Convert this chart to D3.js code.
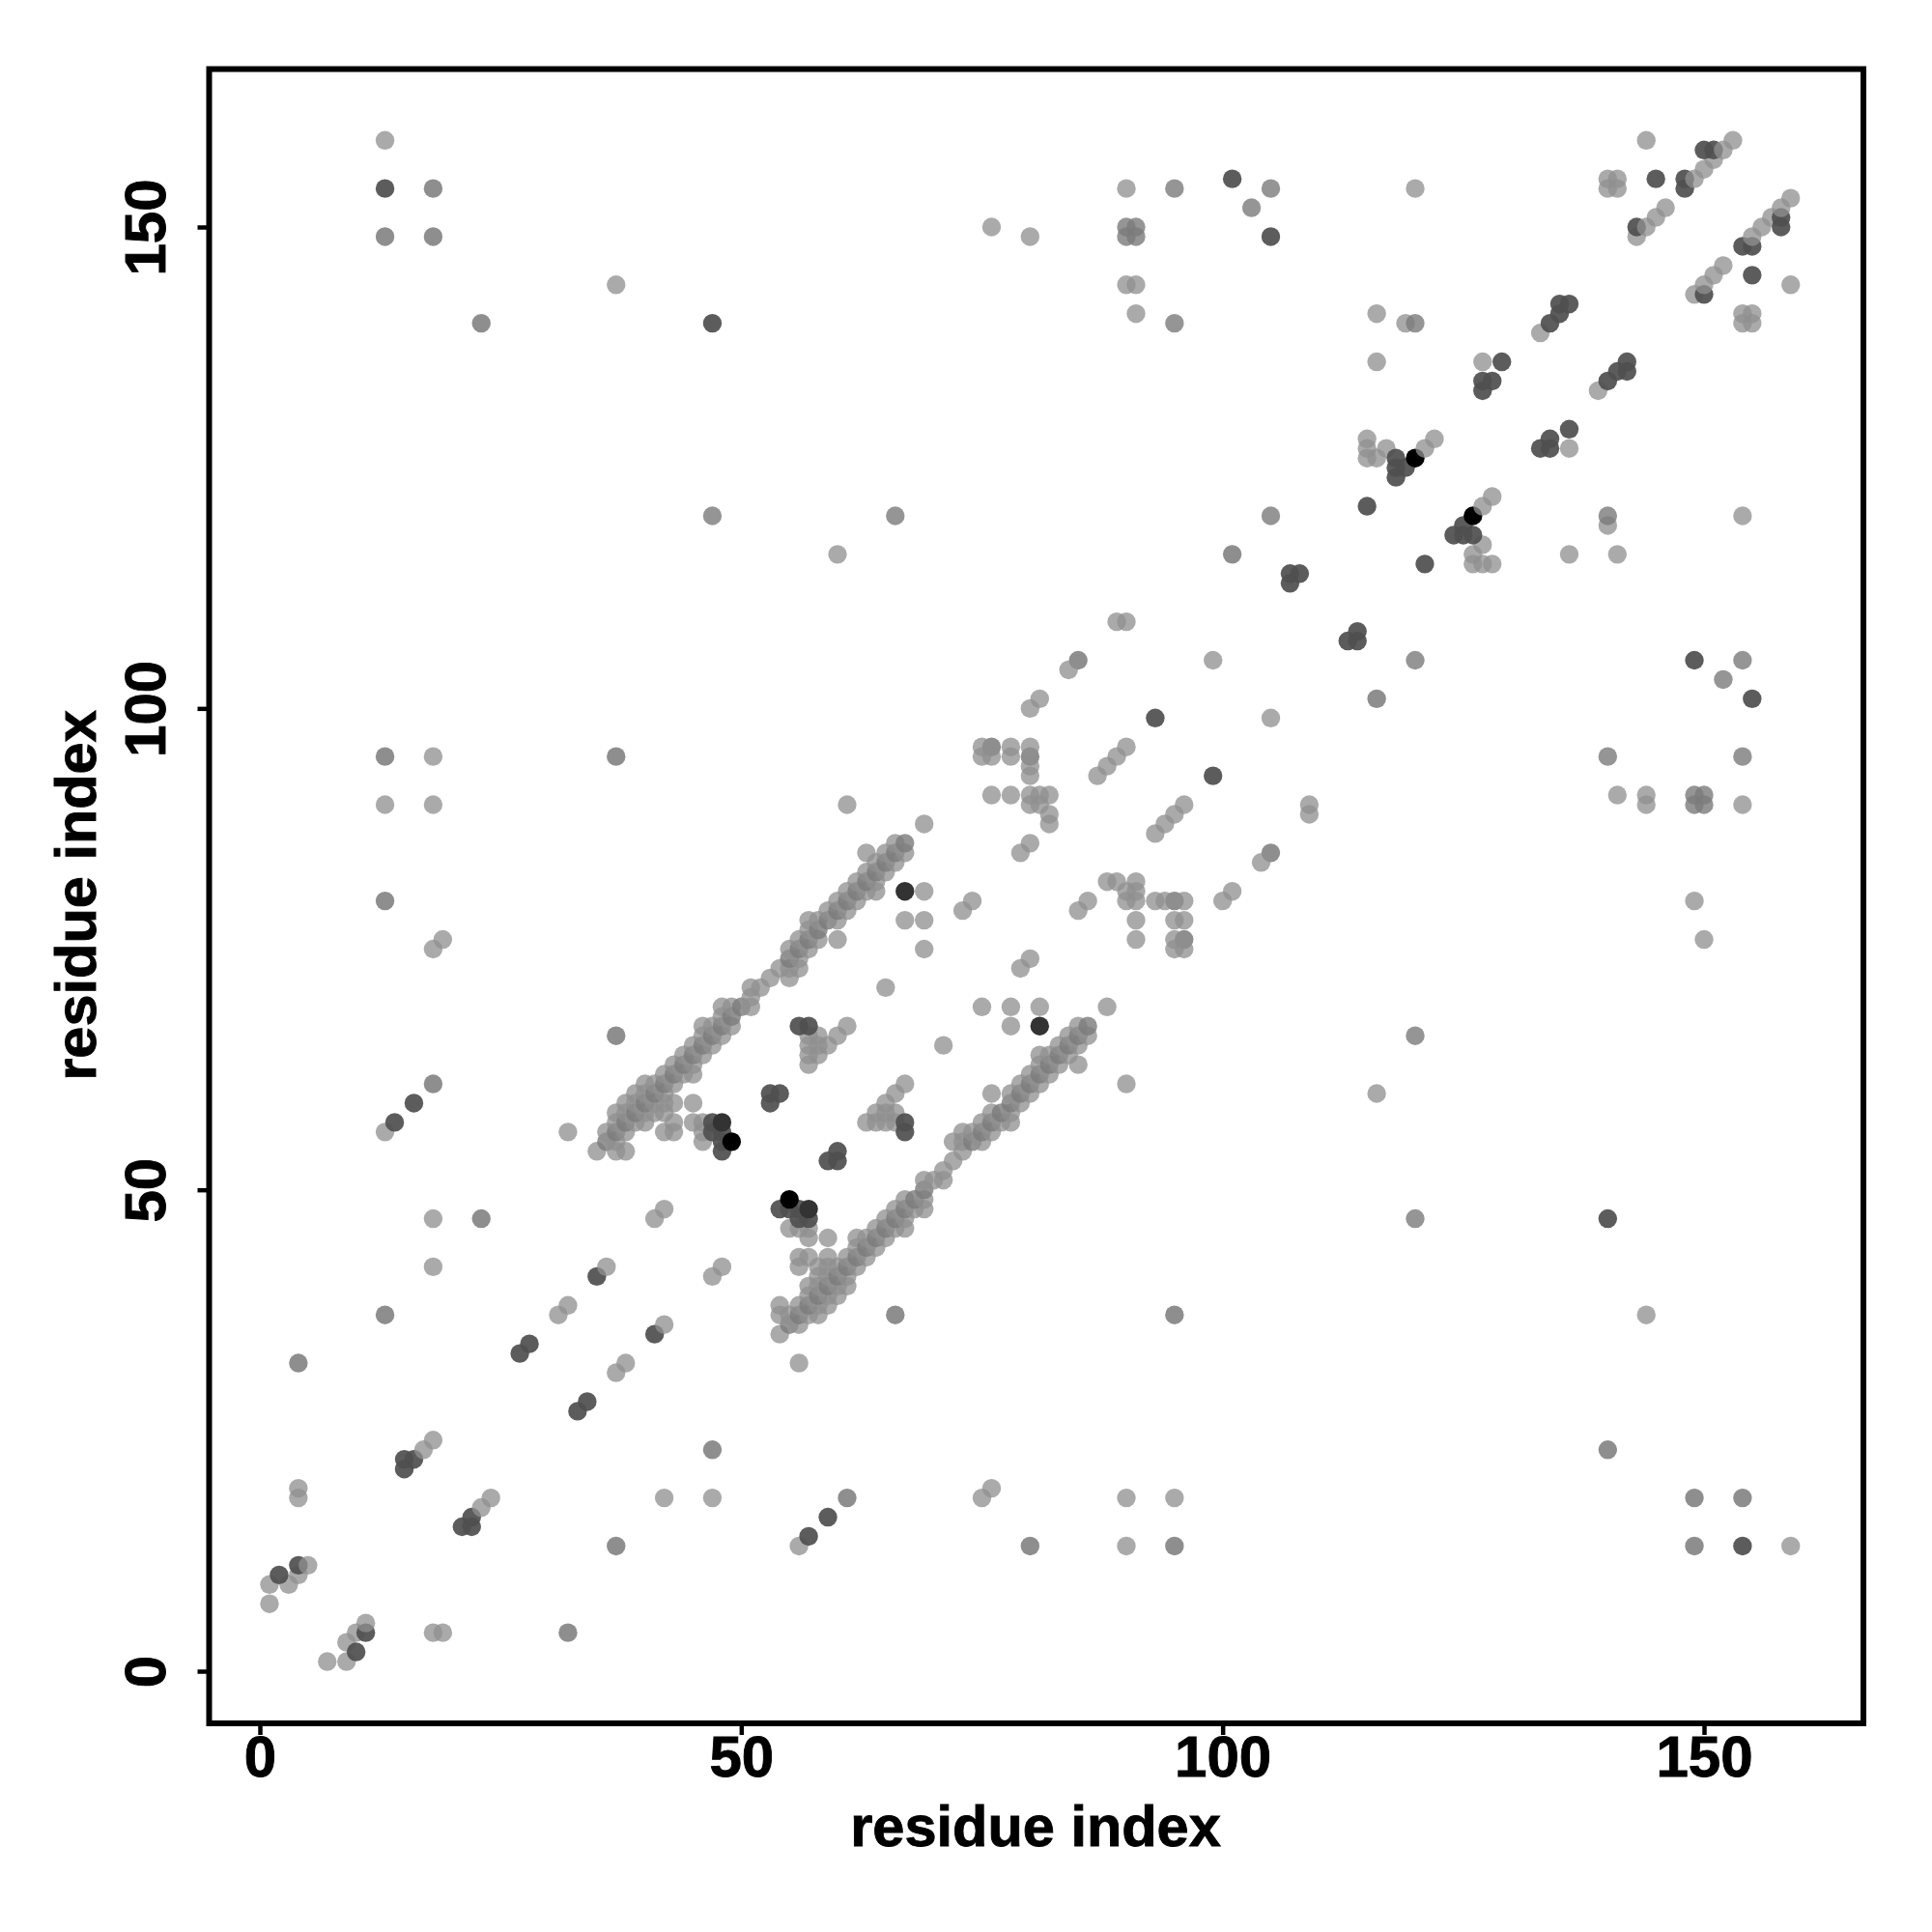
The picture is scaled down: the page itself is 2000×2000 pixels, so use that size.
<!DOCTYPE html>
<html><head><meta charset="utf-8">
<script src="https://cdn.jsdelivr.net/npm/d3@7"></script>
<style>html,body{margin:0;background:#fff}svg{display:block}text{font-family:"Liberation Sans",Arial,sans-serif;font-weight:700;fill:#000;stroke:#000;stroke-width:0.9px}</style>
</head><body><svg id="c" width="2000" height="2000"></svg>
<script>
const axisTicks = [0, 50, 100, 150];
const axisTitle = "residue index";
// contacts as [i, j], i < j; the map is symmetric, each is drawn at (i,j) and (j,i)
const lightContacts = [[1,7],[1,9],[3,9],[4,10],[5,11],[4,18],[4,19],[17,23],[18,24],[31,37],[32,38],[36,42],[18,42],[18,47],[41,47],[42,48],
[13,56],[32,56],[13,90],[18,90],[18,95],[18,75],[19,76],[13,159],[37,144],[61,90],[60,116],
[35,54],[36,55],[36,56],[37,54],[37,55],[37,57],[37,58],[38,54],[38,56],[38,58],[38,59],
[39,57],[39,59],[39,60],[40,57],[40,58],[40,60],[40,61],[41,58],[41,59],[41,61],
[42,56],[42,58],[42,59],[42,60],[42,62],[43,56],[43,57],[43,59],[43,61],[43,63],
[44,62],[44,64],[45,57],[45,59],[45,62],[45,63],[45,65],[46,55],[46,56],[46,57],[46,64],[46,66],[46,67],
[47,65],[47,67],[48,66],[48,68],[48,69],[49,67],[49,69],[51,69],[51,70],[51,71],[52,71],[53,72],[54,73],
[55,72],[55,73],[55,75],[56,73],[56,74],[56,76],[57,75],[57,77],[57,78],[58,76],[58,78],[59,79],
[60,76],[60,78],[60,80],[61,79],[61,81],[62,80],[62,82],[63,81],[63,83],[63,85],[64,81],[64,82],[64,84],
[65,83],[65,85],[66,84],[66,86],[67,85],[69,88],
[57,63],[57,64],[57,65],[57,66],[58,64],[58,65],[58,66],[59,65],[60,66],[61,67],[65,71],[67,78],[69,75],[69,78],[69,81],
[73,79],[74,80],[79,85],[80,86],[80,100],[81,101],[75,95],[75,96],[76,95],[78,95],[78,96],[80,93],[80,94],[87,93],[88,94],[89,95],[90,96],
[76,91],[78,91],[80,90],[80,91],[81,90],[81,91],[82,91],[82,88],[82,89],[95,75],[95,76],[96,75],[95,78],[96,78],[91,76],[91,78],[90,80],[91,80],[91,81],[91,82],[96,80],
[84,104],[89,109],[90,109],[99,105],[100,80],[101,81],
[76,150],[80,149],[90,144],[91,144],[91,141],[90,154],[120,154],[116,141],[119,140],[116,136],[127,136],[133,139],
[115,126],[115,127],[115,128],[116,126],[117,127],[121,127],[122,128],
[140,154],[140,155],[141,154],[141,155],[143,149],[144,150],[145,151],[146,152],[144,159],[149,155],[150,156],[151,157],[152,158],[153,159],[149,143],[150,144],[151,145],[152,146],[149,80],[150,76],[144,90],[144,91],[154,90],[141,91]];
const midContacts = [[36,55],[37,56],[38,57],[39,58],[40,59],[41,60],[42,61],[43,62],[44,63],[45,64],[46,65],[47,66],[48,67],[49,68],[50,69],
[55,74],[56,75],[57,76],[58,77],[59,78],[60,79],[61,80],[62,81],[63,82],[64,83],[65,84],[66,85],[67,86],
[47,120],[66,120],[90,149],[91,149],[90,150],[91,150],[95,140],[95,154],[103,152],[105,154],[105,120],[120,140]];
const mediumContacts = [[4,32],[13,37],[23,47],[13,80],[13,95],[37,95],[37,66],[18,61],[13,149],[18,149],[18,154],[23,140],[76,96],[80,95],[85,105],[101,116]];
const darkContacts = [[2,10],[4,11],[15,21],[15,22],[16,22],[27,33],[28,34],[35,41],[14,57],[16,59],[13,154],[47,140],[53,59],[53,60],[54,60],[56,67],[57,67],
[47,56],[47,57],[48,54],[48,55],[48,56],[93,99],[101,155],[105,149],[107,113],[107,114],[108,114],[115,121],[118,124],[118,125],[118,126],[119,125],
[127,133],[127,134],[128,134],[129,136],[134,140],[135,141],[135,142],[136,142],[143,150],[148,154],[148,155],[145,155],[150,158],[151,158]];
const darkerContacts = [[48,57],[67,81]];
const blackContacts = [[49,55],[120,126]];

const seriesStyles = [
  {data: lightContacts,  fill: "#8f8f8f", opacity: 0.76},
  {data: midContacts,    fill: "#7a7a7a", opacity: 0.8},
  {data: mediumContacts, fill: "#8e8e8e", opacity: 1},
  {data: darkContacts,   fill: "#505050", opacity: 0.93},
  {data: darkerContacts, fill: "#333333", opacity: 1},
  {data: blackContacts,  fill: "#000000", opacity: 1}
];

const svg = d3.select("#c");
const x = d3.scaleLinear().domain([0,150]).range([269,1764]);
const y = d3.scaleLinear().domain([0,150]).range([1730,235]);
const frame = {l:216.5, r:1929, t:71.5, b:1784};

const cells = new Map();
seriesStyles.forEach(s => s.data.forEach(([i,j]) => {
  const a = Math.min(i,j), b = Math.max(i,j);
  cells.set(a+"-"+b, {a,b,s});
}));
const pts = [];
cells.forEach(c => {
  pts.push({x:c.a,y:c.b,s:c.s});
  pts.push({x:c.b,y:c.a,s:c.s});
});
pts.sort((p,q)=>(p.x+p.y)-(q.x+q.y));

svg.append("g").selectAll("circle").data(pts).join("circle")
  .attr("cx",d=>x(d.x)).attr("cy",d=>y(d.y)).attr("r",9.7)
  .attr("fill",d=>d.s.fill).attr("fill-opacity",d=>d.s.opacity);

svg.append("rect").attr("x",frame.l).attr("y",frame.t)
  .attr("width",frame.r-frame.l).attr("height",frame.b-frame.t)
  .attr("fill","none").attr("stroke","#000").attr("stroke-width",6);

const gx = svg.append("g").attr("transform",`translate(0,${frame.b})`)
  .call(d3.axisBottom(x).tickValues(axisTicks).tickSize(12).tickPadding(0).tickFormat(d3.format("d")));
gx.select(".domain").remove();
gx.selectAll("line").attr("stroke","#000").attr("stroke-width",4.5);
gx.selectAll("text").attr("y",55).attr("dy",0).attr("font-size",60).attr("text-anchor","middle");

const gy = svg.append("g").attr("transform",`translate(${frame.l},0)`)
  .call(d3.axisLeft(y).tickValues(axisTicks).tickSize(12).tickPadding(0).tickFormat(d3.format("d")));
gy.select(".domain").remove();
gy.selectAll("line").attr("stroke","#000").attr("stroke-width",4.5);
gy.selectAll("text").attr("x",null).attr("dy",0).attr("font-size",60).attr("text-anchor","middle")
  .attr("transform","translate(-45.5,0) rotate(-90)");

svg.append("text").attr("x",1072).attr("y",1911).attr("text-anchor","middle").attr("font-size",59.5).text(axisTitle);
svg.append("text").attr("transform","translate(99,927) rotate(-90)").attr("text-anchor","middle").attr("font-size",59.5).text(axisTitle);
</script></body></html>
